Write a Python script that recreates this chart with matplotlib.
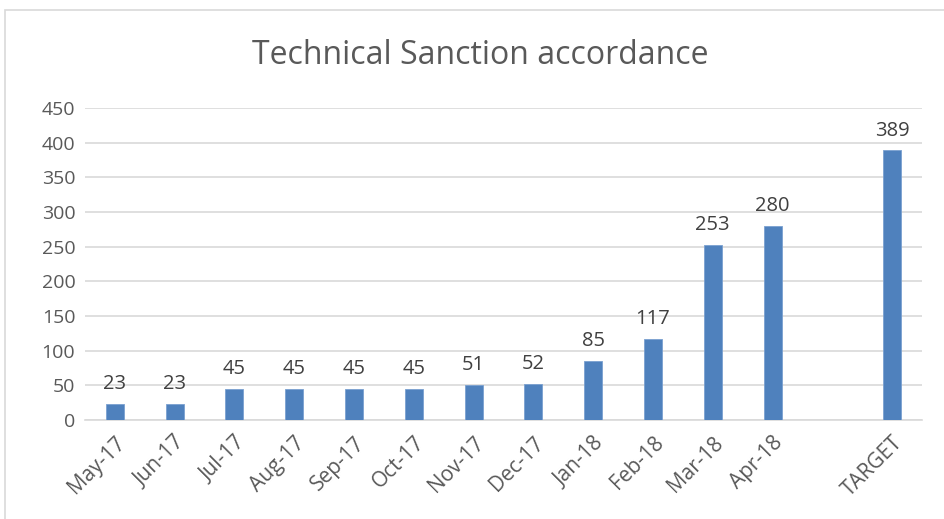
import matplotlib
matplotlib.use("Agg")
import matplotlib.pyplot as plt
from matplotlib.patches import Rectangle

categories = ["May-17", "Jun-17", "Jul-17", "Aug-17", "Sep-17", "Oct-17", "Nov-17",
              "Dec-17", "Jan-18", "Feb-18", "Mar-18", "Apr-18", "", "TARGET"]
values = [23, 23, 45, 45, 45, 45, 51, 52, 85, 117, 253, 280, None, 389]
yticks = [0, 50, 100, 150, 200, 250, 300, 350, 400, 450]

plt.rcParams['font.family'] = ['Open Sans', 'DejaVu Sans']

fig = plt.figure(figsize=(9.45, 5.19), dpi=100)
W, H = 945, 519
ax = fig.add_axes([85 / W, 1 - 420 / H, (922 - 85) / W, (420 - 108) / H])

xs = list(range(len(categories)))
bx = [x for x, v in zip(xs, values) if v is not None]
bv = [v for v in values if v is not None]
bars = ax.bar(bx, bv, width=0.3, color="#4f81bd", edgecolor="#7aa0d0", linewidth=0.6, zorder=3)
for x, v in zip(bx, bv):
    ax.text(x, v + 14, str(v), ha="center", va="bottom", fontsize=14.5, color="#404040")

ax.set_xlim(-0.5, len(categories) - 0.5)
ax.set_ylim(0, 450)
ax.set_yticks(yticks)
ax.set_yticklabels([str(t) for t in yticks], fontsize=14, color="#595959")
ax.set_xticks(xs)
ax.set_xticklabels(categories, rotation=45, ha="right", rotation_mode="anchor",
                   fontsize=15, color="#595959")
ax.tick_params(axis="y", length=0, pad=7)
ax.tick_params(axis="x", length=0, pad=9)
ax.grid(axis="y", color="#d9d9d9", linewidth=1.2, zorder=0)
for s in ["top", "right", "left"]:
    ax.spines[s].set_visible(False)
ax.spines["bottom"].set_color("#d9d9d9")
ax.spines["bottom"].set_linewidth(1.2)

fig.text(480 / W, 1 - 56 / H, "Technical Sanction accordance", ha="center", va="center",
         fontsize=23, color="#595959")

fig.patches.append(Rectangle((5 / W, -0.1), 1.1, 1 - 10 / H + 0.1, transform=fig.transFigure,
                             fill=False, edgecolor="#d9d9d9", linewidth=1.2))

fig.savefig("out.png", dpi=100)
